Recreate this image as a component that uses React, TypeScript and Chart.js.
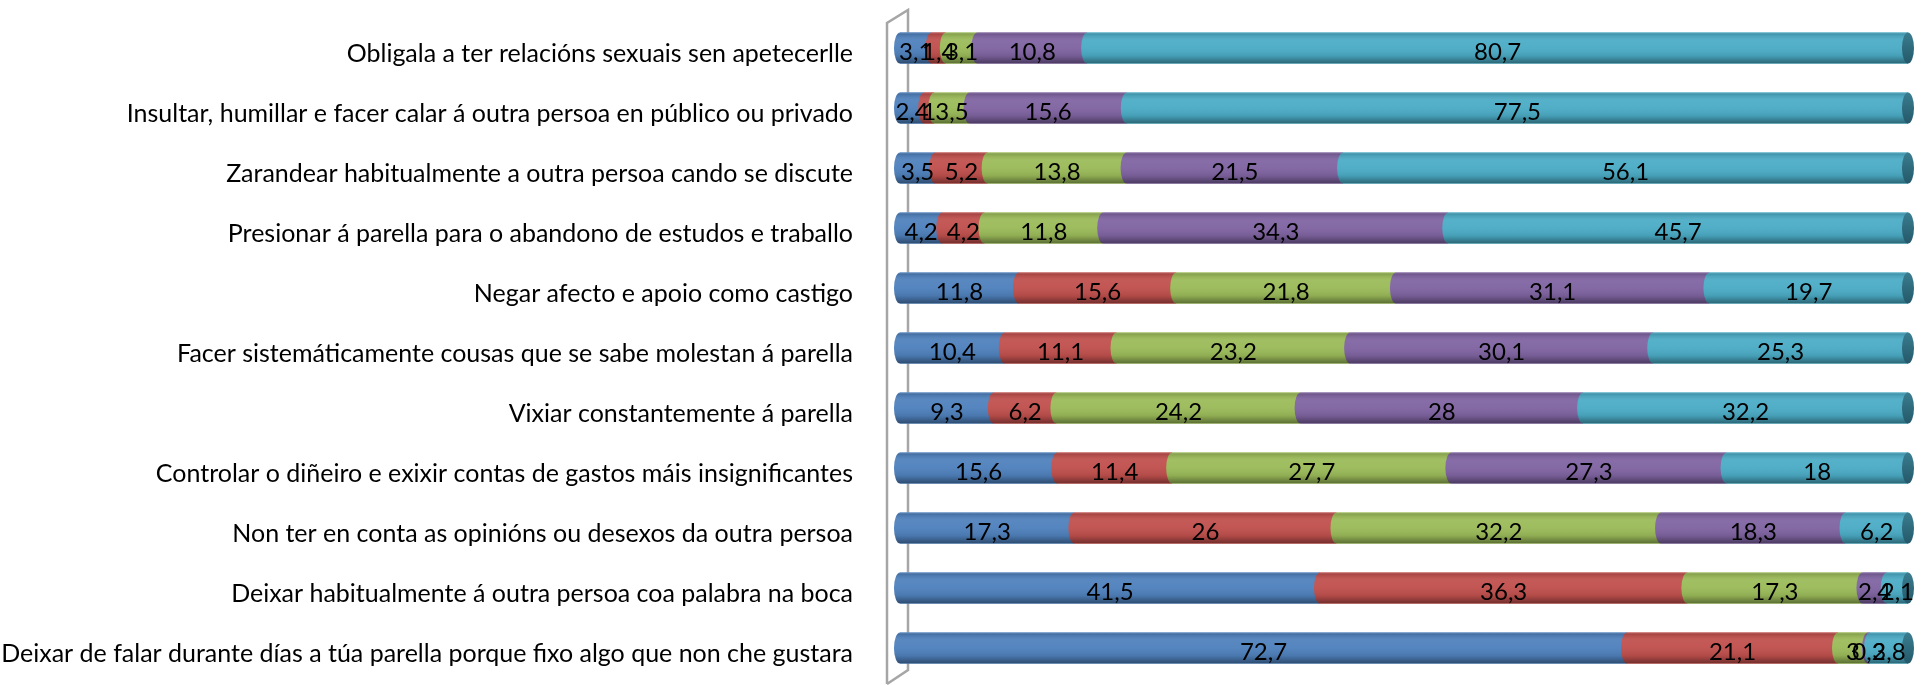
import React, { useEffect, useRef } from "react";
import { Chart, registerables } from "chart.js";
Chart.register(...registerables);

const categories = [
  "Obligala a ter relacións sexuais sen apetecerlle",
  "Insultar, humillar e facer calar á outra persoa en público ou privado",
  "Zarandear habitualmente a outra persoa cando se discute",
  "Presionar á parella para o abandono de estudos e traballo",
  "Negar afecto e apoio como castigo",
  "Facer sistemáticamente cousas que se sabe molestan á parella",
  "Vixiar constantemente á parella",
  "Controlar o diñeiro e exixir contas de gastos máis insignificantes",
  "Non ter en conta as opinións ou desexos da outra persoa",
  "Deixar habitualmente á outra persoa coa palabra na boca",
  "Deixar de falar durante días a túa parella porque fixo algo que non che gustara",
];

const serie1 = [3.1, 2.4, 3.5, 4.2, 11.8, 10.4, 9.3, 15.6, 17.3, 41.5, 72.7];
const serie2 = [1.4, 1, 5.2, 4.2, 15.6, 11.1, 6.2, 11.4, 26, 36.3, 21.1];
const serie3 = [3.1, 3.5, 13.8, 11.8, 21.8, 23.2, 24.2, 27.7, 32.2, 17.3, 3.0];
const serie4 = [10.8, 15.6, 21.5, 34.3, 31.1, 30.1, 28, 27.3, 18.3, 2.4, 0.2];
const serie5 = [80.7, 77.5, 56.1, 45.7, 19.7, 25.3, 32.2, 18, 6.2, 2.1, 3.8];

const seriesNames = ["Serie 1", "Serie 2", "Serie 3", "Serie 4", "Serie 5"];
const series = [serie1, serie2, serie3, serie4, serie5];
const colors = ["#4F81BD", "#C0504D", "#9BBB59", "#8064A2", "#4BACC6"];
const capColor = "#2E6B7C";

const fmt = (v: number) => String(v).replace(".", ",");

const cylinderPlugin = {
  id: "cylinder",
  beforeDraw(chart: any) {
    const sc = chart.scales.y;
    const items = sc.getLabelItems(chart.chartArea);
    for (const it of items) {
      if (!it._shifted) {
        it.textOffset += 6;
        it._shifted = true;
      }
    }
  },
  beforeDatasetsDraw(chart: any) {
    const { ctx, chartArea } = chart;
    const l = chartArea.left, t = chartArea.top, b = chartArea.bottom;
    ctx.save();
    ctx.strokeStyle = "#A6A6A6";
    ctx.lineWidth = 2.5;
    ctx.beginPath();
    ctx.moveTo(l - 13, b + 6);
    ctx.lineTo(l - 13, t + 5);
    ctx.lineTo(l + 8, t - 8);
    ctx.lineTo(l + 8, b - 8);
    ctx.lineTo(l - 13, b + 6);
    ctx.stroke();
    ctx.restore();
  },
  afterDatasetsDraw(chart: any) {
    const ctx = chart.ctx;
    const nDs = chart.data.datasets.length;
    ctx.save();
    for (let r = 0; r < categories.length; r++) {
      const segs: any[] = [];
      for (let d = 0; d < nDs; d++) {
        const el = chart.getDatasetMeta(d).data[r];
        const p = el.getProps(["x", "base", "y", "height"], true);
        segs.push({
          x0: Math.min(p.x, p.base),
          x1: Math.max(p.x, p.base),
          y: p.y,
          h: p.height,
          color: colors[d],
          value: series[d][r],
        });
      }
      const y = segs[0].y;
      const ry = segs[0].h / 2;
      const rx = 6;
      const left = segs[0].x0;
      const right = segs[segs.length - 1].x1;
      for (const s of segs) {
        if (s.x1 - s.x0 <= 0) continue;
        ctx.fillStyle = s.color;
        ctx.beginPath();
        ctx.ellipse(s.x0, y, rx, ry, 0, Math.PI / 2, (Math.PI * 3) / 2);
        ctx.lineTo(s.x1, y - ry);
        ctx.lineTo(s.x1, y + ry);
        ctx.closePath();
        ctx.fill();
      }
      ctx.save();
      ctx.beginPath();
      ctx.ellipse(left, y, rx, ry, 0, Math.PI / 2, (Math.PI * 3) / 2);
      ctx.lineTo(right, y - ry);
      ctx.lineTo(right, y + ry);
      ctx.closePath();
      ctx.clip();
      const g = ctx.createLinearGradient(0, y - ry, 0, y + ry);
      g.addColorStop(0, "rgba(255,255,255,0.35)");
      g.addColorStop(0.06, "rgba(0,0,0,0.12)");
      g.addColorStop(0.25, "rgba(255,255,255,0.06)");
      g.addColorStop(0.45, "rgba(255,255,255,0.04)");
      g.addColorStop(0.75, "rgba(0,0,0,0.08)");
      g.addColorStop(1, "rgba(0,0,0,0.42)");
      ctx.fillStyle = g;
      ctx.fillRect(left - rx, y - ry, right - left + 2 * rx, 2 * ry);
      ctx.restore();
      const cg = ctx.createLinearGradient(0, y - ry, 0, y + ry);
      cg.addColorStop(0, "#3A7D90");
      cg.addColorStop(0.5, capColor);
      cg.addColorStop(1, "#24586A");
      ctx.fillStyle = cg;
      ctx.beginPath();
      ctx.ellipse(right, y, rx, ry, 0, 0, Math.PI * 2);
      ctx.fill();
      ctx.fillStyle = "#000";
      ctx.font = "24px Lato";
      ctx.textAlign = "center";
      ctx.textBaseline = "middle";
      for (const s of segs) {
        ctx.fillText(fmt(s.value), (s.x0 + s.x1) / 2, y + 4);
      }
    }
    ctx.restore();
  },
};

export default function App() {
  const ref = useRef<HTMLCanvasElement | null>(null);
  useEffect(() => {
    document.body.style.margin = "0";
    const m = document.createElement("canvas").getContext("2d")!;
    m.font = "100px Lato";
    const longest = categories.reduce((a, c) => (m.measureText(c).width > m.measureText(a).width ? c : a), categories[0]);
    const size = Math.min(26, (100 * 852) / m.measureText(longest).width);

    const totals = categories.map((_, i) => series.reduce((s, arr) => s + arr[i], 0));
    const chart = new Chart(ref.current!, {
      type: "bar",
      data: {
        labels: categories,
        datasets: series.map((arr, d) => ({
          label: seriesNames[d],
          data: arr.map((v, i) => (v / totals[i]) * 100),
          backgroundColor: colors[d],
          borderWidth: 0,
          barPercentage: 0.52,
          categoryPercentage: 1,
        })),
      },
      options: {
        indexAxis: "y",
        animation: false,
        responsive: true,
        maintainAspectRatio: false,
        layout: { padding: { top: 18, bottom: 7, right: 20, left: 0 }, autoPadding: false },
        plugins: { legend: { display: false }, tooltip: { enabled: false } },
        scales: {
          x: { stacked: true, min: 0, max: 100, display: false },
          y: {
            stacked: true,
            grid: { display: false },
            border: { display: false },
            ticks: { color: "#000", padding: 39, font: { family: "Lato", size } },
            afterFit: (scale: any) => {
              scale.width = 900;
              scale.paddingTop = 0;
              scale.paddingBottom = 0;
            },
          },
        },
      },
      plugins: [cylinderPlugin],
    });
    return () => chart.destroy();
  }, []);
  return (
    <div style={{ width: 1928, height: 685, position: "relative" }}>
      <canvas ref={ref} />
    </div>
  );
}
